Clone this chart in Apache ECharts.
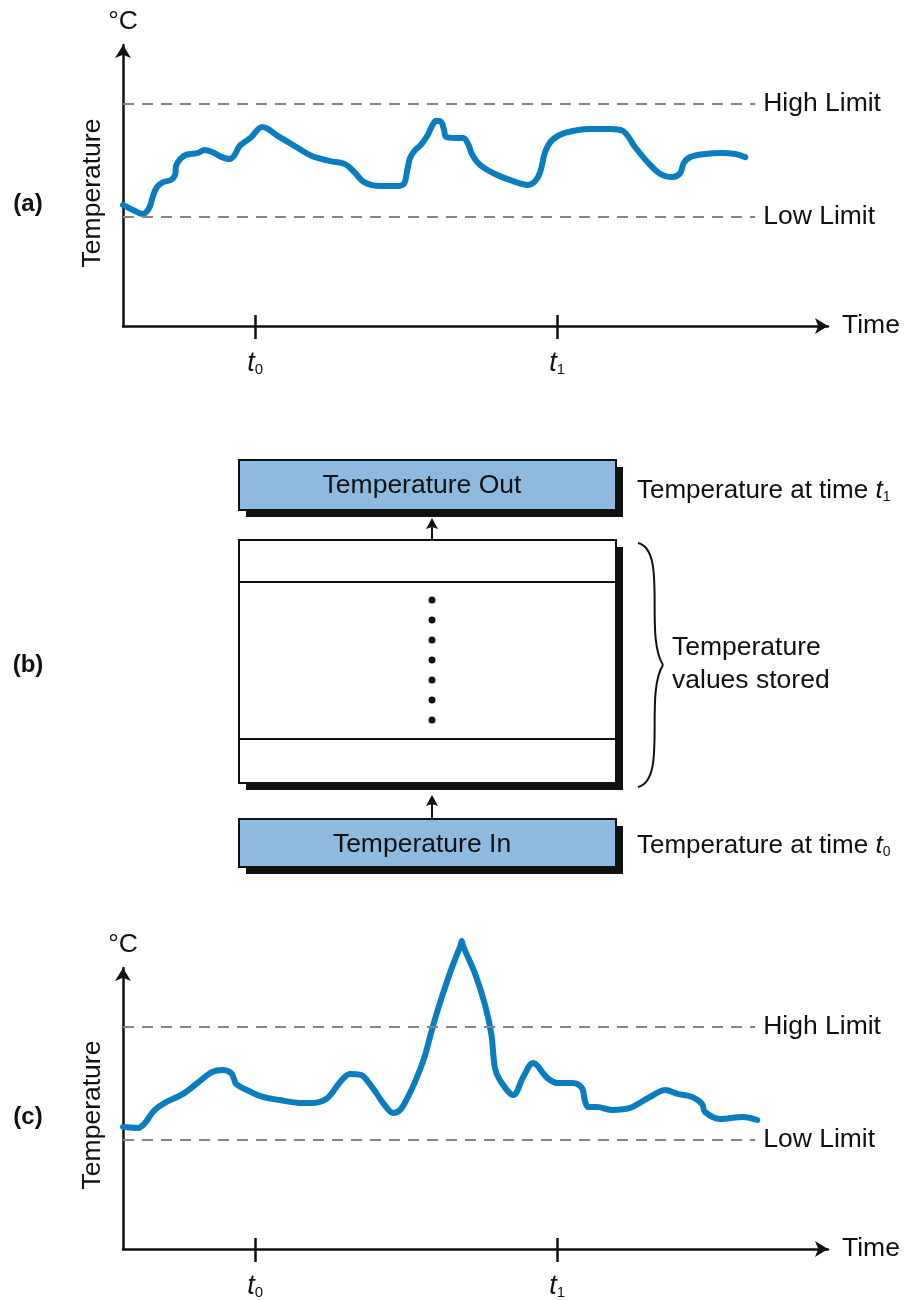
<!DOCTYPE html>
<html>
<head>
    <title>Temperature buffer</title>
    <meta charset="UTF-8">
    <script type="text/javascript" src="https://cdn.jsdelivr.net/npm/echarts@6/dist/echarts.min.js"></script>
    <style type="text/css">
        html, body { margin: 0; padding: 0; background: #fff; }
        #chart { width: 907px; height: 1300px; }
    </style>
</head>
<body>
<div id="chart"></div>
<script type="text/javascript">
    // panel (a): temperature stays between the limits
    var timeA = [0, 1.4, 2.8, 3.7, 4.2, 4.8, 5.7, 6.8, 7.4, 7.5, 8.1, 8.9, 10.6, 11.5, 12.6, 14.0, 15.1, 15.8, 16.5, 18.0,
        19.7, 22.1, 24.5, 26.7, 29.3, 31.4, 32.7, 34.1, 36.4, 38.5, 39.7, 40.2, 40.6, 41.3, 42.1, 43.1, 43.7, 44.3, 45.0, 45.4,
        45.7, 47.0, 48.1, 48.8, 49.4, 50.5, 52.6, 54.7, 57.3, 58.3, 59.0, 59.7, 60.7, 62.5, 66.1, 68.9, 70.7, 72.4, 74.3, 76.0,
        77.7, 78.8, 79.3, 80.2, 82.3, 84.7, 86.6, 88.0];
    var tempA = [43.1, 41.3, 39.9, 42.0, 45.9, 49.5, 51.2, 52.0, 54.1, 57.0, 59.4, 60.9, 61.6, 62.6, 61.9, 60.1, 59.4, 60.9, 64.1, 66.9,
        70.8, 67.3, 63.7, 60.5, 58.7, 57.6, 54.8, 51.2, 49.8, 49.8, 50.5, 55.5, 59.8, 62.6, 64.4, 68.0, 71.2, 73.0, 72.6, 69.8,
        67.3, 66.9, 66.9, 64.8, 60.9, 57.3, 54.1, 52.0, 50.2, 51.6, 54.8, 61.9, 66.2, 68.7, 70.1, 70.1, 69.4, 63.7, 58.0, 54.1,
        53.0, 54.4, 58.0, 60.1, 61.2, 61.6, 61.2, 60.1];

    // panel (c): a spike above the high limit
    var timeC = [0, 2.1, 3.1, 3.8, 4.5, 5.9, 8.5, 10.9, 12.6, 14.1, 15.3, 15.7, 16.0, 17.5, 19.8, 22.2, 25.0, 26.9, 28.9, 30.7,
        32.1, 33.7, 34.9, 35.9, 37.1, 38.2, 39.2, 40.3, 41.4, 42.6, 43.6, 44.6, 45.7, 46.8, 47.7, 47.9, 48.1, 49.8, 51.2, 52.1,
        52.6, 53.3, 55.2, 56.6, 58.0, 60.0, 61.4, 63.6, 64.9, 65.3, 65.8, 67.0, 69.2, 71.7, 74.5, 76.7, 78.4, 80.5, 81.9, 82.3,
        84.4, 87.7, 89.7];
    var tempC = [43.4, 43.1, 44.8, 47.3, 49.5, 52.0, 55.2, 59.8, 63.0, 63.7, 62.6, 60.5, 58.7, 56.6, 54.1, 53.0, 52.0, 52.0, 53.7, 59.4,
        62.3, 61.9, 58.7, 55.2, 50.9, 48.4, 49.5, 54.1, 60.1, 68.0, 77.2, 85.8, 94.3, 102.1, 107.8, 109.6, 107.8, 97.9, 86.8, 76.2,
        64.4, 60.1, 54.8, 61.2, 66.2, 60.9, 59.1, 59.1, 57.3, 53.0, 50.5, 50.5, 49.5, 50.2, 54.1, 56.6, 55.2, 54.1, 51.6, 48.8,
        46.3, 47.0, 45.9];

    var highLimit = 79;
    var lowLimit = 39;
    var limitEnd = 89.4;
    var tickTimes = [18.7, 61.4];
    var tickNames = ['0', '1'];

    var xMax = 99.7;
    var yMax = 100;
    var FONT = '"Liberation Sans", Arial, Helvetica, sans-serif';
    var INK = '#111';
    var BLUE = '#0a7cc0';
    var FS = 26.5;

    function pairs(xs, ys) {
        var out = [];
        for (var i = 0; i < xs.length; i++) {
            out.push([xs[i], ys[i]]);
        }
        return out;
    }

    var tickRich = {
        t: { fontFamily: FONT, fontSize: 27, fontStyle: 'italic', color: INK, verticalAlign: 'bottom' },
        s: { fontFamily: FONT, fontSize: 15, color: INK, verticalAlign: 'bottom' }
    };
    var noteRich = {
        t: { fontFamily: FONT, fontSize: 26, fontStyle: 'italic', color: INK, verticalAlign: 'bottom' },
        s: { fontFamily: FONT, fontSize: 14, color: INK, verticalAlign: 'bottom' },
        n: { fontFamily: FONT, fontSize: 26, color: INK, verticalAlign: 'bottom' }
    };

    function tickLabel(v) {
        var best = 0;
        for (var i = 1; i < tickTimes.length; i++) {
            if (Math.abs(tickTimes[i] - v) < Math.abs(tickTimes[best] - v)) best = i;
        }
        return '{t|t}{s|' + tickNames[best] + '}';
    }

    var axisLineStyle = { color: INK, width: 2.5 };

    function xAxes(g) {
        return [{
            type: 'value', gridIndex: g, min: 0, max: xMax, position: 'bottom',
            name: 'Time', nameLocation: 'end', nameGap: 14,
            nameTextStyle: { fontFamily: FONT, fontSize: FS, color: INK },
            axisLine: { show: true, onZero: false, symbol: ['none', 'arrow'], symbolSize: [12, 13], lineStyle: axisLineStyle },
            axisTick: { show: true, customValues: tickTimes, length: 13, lineStyle: axisLineStyle },
            axisLabel: { show: true, customValues: tickTimes, margin: 24, formatter: tickLabel, rich: tickRich },
            splitLine: { show: false }
        }, {
            type: 'value', gridIndex: g, min: 0, max: xMax, position: 'bottom',
            axisLine: { show: false },
            axisTick: { show: true, inside: true, customValues: tickTimes, length: 11, lineStyle: axisLineStyle },
            axisLabel: { show: false },
            splitLine: { show: false }
        }];
    }

    function yAxis(g) {
        return {
            type: 'value', gridIndex: g, min: 0, max: yMax,
            name: '°C', nameLocation: 'end', nameGap: 10,
            nameTextStyle: { fontFamily: FONT, fontSize: FS, color: INK },
            axisLine: { show: true, onZero: false, symbol: ['none', 'arrow'], symbolSize: [12, 13], lineStyle: axisLineStyle },
            axisTick: { show: false },
            axisLabel: { show: false },
            splitLine: { show: false }
        };
    }

    function limitLines() {
        return {
            silent: true,
            symbol: ['none', 'none'],
            lineStyle: { color: '#858585', width: 2, type: [11, 8] },
            label: { show: true, position: 'end', distance: 8, formatter: '{b}', fontFamily: FONT, fontSize: FS, color: INK },
            data: [
                [{ name: 'High Limit', coord: [0, highLimit] }, { coord: [limitEnd, highLimit] }],
                [{ name: 'Low Limit', coord: [0, lowLimit] }, { coord: [limitEnd, lowLimit] }]
            ]
        };
    }

    function curve(xi, yi, data) {
        return {
            type: 'line', xAxisIndex: xi, yAxisIndex: yi, data: data,
            showSymbol: false, smooth: 0.35, clip: false,
            lineStyle: { color: BLUE, width: 6, cap: 'round', join: 'round' },
            markLine: limitLines()
        };
    }

    function text(x, y, str, size, extra) {
        var el = {
            type: 'text', x: x, y: y, z: 10,
            style: {
                text: str, fill: INK,
                font: (extra && extra.bold ? 'bold ' : '') + size + 'px ' + FONT,
                align: (extra && extra.align) || 'left', textAlign: (extra && extra.align) || 'left',
                verticalAlign: 'middle', textVerticalAlign: 'middle'
            }
        };
        if (extra && extra.rotation) el.rotation = extra.rotation;
        if (extra && extra.rich) el.style.rich = extra.rich;
        return el;
    }

    function shadowBox(x, y, w, h, fill) {
        return [
            { type: 'rect', shape: { x: x + 7, y: y + 7, width: w, height: h }, style: { fill: INK } },
            { type: 'rect', shape: { x: x, y: y, width: w, height: h }, style: { fill: fill, stroke: INK, lineWidth: 2 } }
        ];
    }

    function upArrow(x, yFrom, yTip) {
        return [
            { type: 'line', shape: { x1: x, y1: yFrom, x2: x, y2: yTip + 8 }, style: { stroke: INK, lineWidth: 2 } },
            { type: 'polygon', shape: { points: [[x - 6, yTip + 11], [x, yTip], [x + 6, yTip + 11], [x, yTip + 9]] }, style: { fill: INK } }
        ];
    }

    var graphics = [];
    graphics.push(text(28, 204, '(a)', 24, { bold: true, align: 'center' }));
    graphics.push(text(28, 665, '(b)', 24, { bold: true, align: 'center' }));
    graphics.push(text(28, 1117, '(c)', 24, { bold: true, align: 'center' }));
    graphics.push(text(93, 193, 'Temperature', FS, { align: 'center', rotation: Math.PI / 2 }));
    graphics.push(text(93, 1115, 'Temperature', FS, { align: 'center', rotation: Math.PI / 2 }));

    // panel (b): the stored value buffer
    graphics = graphics.concat(shadowBox(239, 460, 377, 50, '#8fbae0'));
    graphics = graphics.concat(shadowBox(239, 540, 377, 243, '#ffffff'));
    graphics = graphics.concat(shadowBox(239, 819, 377, 48, '#8fbae0'));
    graphics.push({ type: 'line', shape: { x1: 239, y1: 582, x2: 616, y2: 582 }, style: { stroke: INK, lineWidth: 2 } });
    graphics.push({ type: 'line', shape: { x1: 239, y1: 739, x2: 616, y2: 739 }, style: { stroke: INK, lineWidth: 2 } });
    for (var d = 0; d < 7; d++) {
        graphics.push({ type: 'circle', shape: { cx: 432, cy: 600 + d * 20, r: 3.5 }, style: { fill: INK } });
    }
    graphics = graphics.concat(upArrow(432, 540, 518));
    graphics = graphics.concat(upArrow(432, 819, 795));
    // curly brace in two halves
    graphics.push({
        type: 'bezierCurve',
        shape: { x1: 638, y1: 543, cpx1: 668, cpy1: 550, cpx2: 644, cpy2: 635, x2: 663, y2: 665 },
        style: { fill: null, stroke: INK, lineWidth: 2 }
    });
    graphics.push({
        type: 'bezierCurve',
        shape: { x1: 663, y1: 665, cpx1: 644, cpy1: 695, cpx2: 668, cpy2: 780, x2: 638, y2: 787 },
        style: { fill: null, stroke: INK, lineWidth: 2 }
    });
    graphics.push(text(422, 486, 'Temperature Out', FS, { align: 'center' }));
    graphics.push(text(422, 845, 'Temperature In', FS, { align: 'center' }));
    graphics.push(text(637, 491, '{n|Temperature at time }{t|t}{s|1}', 26, { rich: noteRich }));
    graphics.push(text(637, 846, '{n|Temperature at time }{t|t}{s|0}', 26, { rich: noteRich }));
    graphics.push(text(672, 648, 'Temperature', FS));
    graphics.push(text(672, 681, 'values stored', FS));

    var chart = echarts.init(document.getElementById('chart'), null, { renderer: 'canvas' });
    chart.setOption({
        animation: false,
        backgroundColor: '#ffffff',
        textStyle: { fontFamily: FONT },
        grid: [
            { left: 123, top: 45, width: 705, height: 281 },
            { left: 123, top: 968, width: 705, height: 281 }
        ],
        xAxis: xAxes(0).concat(xAxes(1)),
        yAxis: [yAxis(0), yAxis(1)],
        series: [
            curve(0, 0, pairs(timeA, tempA)),
            curve(2, 1, pairs(timeC, tempC))
        ],
        graphic: graphics
    });
</script>
</body>
</html>
